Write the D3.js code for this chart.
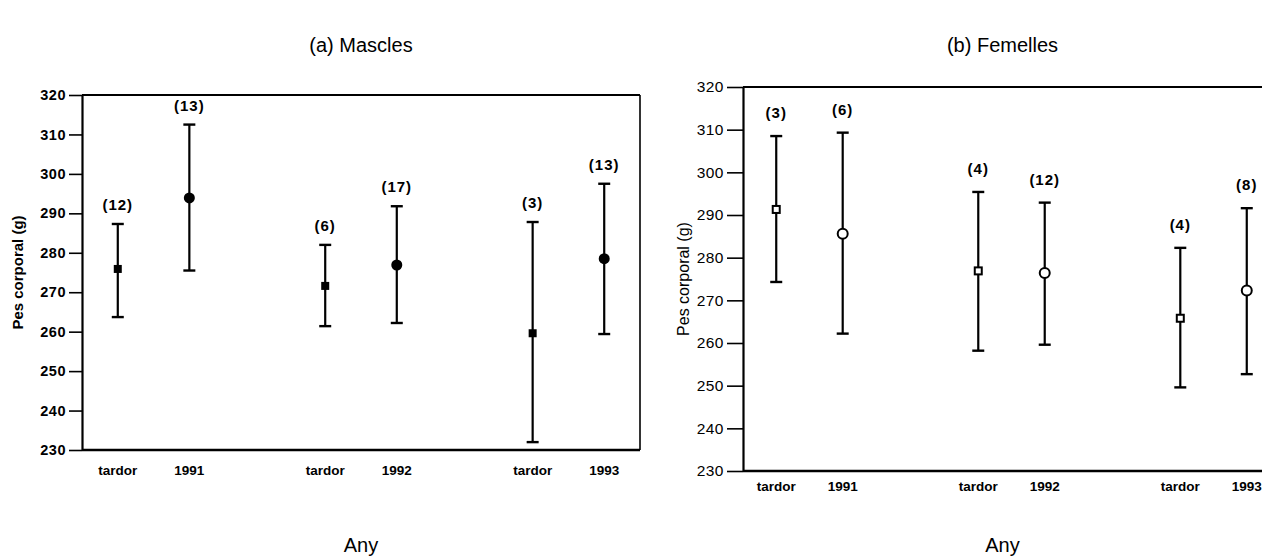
<!DOCTYPE html>
<html>
<head>
<meta charset="utf-8">
<script src="https://cdn.jsdelivr.net/npm/d3@7"></script>
<style>
  body { margin: 0; background: #fff; }
  text { font-family: "Liberation Sans", Arial, sans-serif; fill: #000; }
</style>
</head>
<body>
<svg id="chart" width="1273" height="560"></svg>
<script>
// categories
const years = ["1991", "1992", "1993"];
const periods = ["tardor", "any"];
const yTicks = [230, 240, 250, 260, 270, 280, 290, 300, 310, 320];

// (a) Mascles: mean and range, order tardor 1991, 1991, tardor 1992, ...
const maleMean = [275.9, 293.9, 271.6, 276.9, 259.6, 278.5];
const maleLow = [263.7, 275.5, 261.4, 262.2, 232.0, 259.4];
const maleHigh = [287.3, 312.5, 282.0, 291.8, 287.8, 297.5];
const maleN = [12, 13, 6, 17, 3, 13];

// (b) Femelles
const femaleMean = [291.3, 285.6, 276.9, 276.4, 265.8, 272.3];
const femaleLow = [274.3, 262.2, 258.2, 259.6, 249.6, 252.7];
const femaleHigh = [308.5, 309.3, 295.4, 292.9, 282.3, 291.6];
const femaleN = [3, 6, 4, 12, 4, 8];

const svg = d3.select("#chart");

function rows(mean, low, high, n) {
  return years.flatMap((yr, i) =>
    periods.map((p, j) => {
      const k = i * 2 + j;
      return { year: yr, period: p, label: p === "tardor" ? "tardor" : yr,
               mean: mean[k], low: low[k], high: high[k], n: n[k] };
    }));
}

function drawPanel(cfg, data) {
  const g = svg.append("g");

  const x = d3.scaleBand().domain(years)
    .range([cfg.left, cfg.xEnd]).paddingInner(cfg.padInner).paddingOuter(0);
  const xi = d3.scalePoint().domain(periods)
    .range([0, x.bandwidth()]).padding(0.5);
  const y = d3.scaleLinear().domain([230, 320]).range([cfg.bottom, cfg.top]);
  const px = d => x(d.year) + xi(d.period);

  // frame
  g.append("line").attr("x1", cfg.left).attr("x2", cfg.frameRight)
    .attr("y1", cfg.top).attr("y2", cfg.top)
    .attr("stroke", "#000").attr("stroke-width", 2.2);
  g.append("line").attr("x1", cfg.left).attr("x2", cfg.frameRight)
    .attr("y1", cfg.bottom).attr("y2", cfg.bottom)
    .attr("stroke", "#000").attr("stroke-width", 2.4);
  if (cfg.closed) {
    g.append("line").attr("x1", cfg.frameRight).attr("x2", cfg.frameRight)
      .attr("y1", cfg.top).attr("y2", cfg.bottom)
      .attr("stroke", "#000").attr("stroke-width", 1.6);
  }

  const axis = g.append("g")
    .attr("transform", `translate(${cfg.left},0)`)
    .call(d3.axisLeft(y).tickValues(yTicks).tickSize(cfg.tickLen).tickSizeOuter(0).tickPadding(3));
  axis.select(".domain").attr("stroke-width", 2.2);
  axis.selectAll(".tick line").attr("stroke-width", 1.6);
  axis.selectAll(".tick text")
    .style("font-size", cfg.tickFont)
    .style("font-weight", cfg.tickWeight)
    .style("letter-spacing", "0.5px")
    .attr("fill", "#000");

  g.append("text")
    .attr("transform", `translate(${cfg.yTitleX},${(cfg.top + cfg.bottom) / 2}) rotate(-90)`)
    .attr("text-anchor", "middle")
    .attr("dy", "0.35em")
    .style("font-size", cfg.yTitleFont)
    .style("font-weight", cfg.tickWeight)
    .text("Pes corporal (g)");

  // category labels under the axis
  g.selectAll(".xl").data(data).enter().append("text")
    .attr("x", px).attr("y", cfg.bottom + cfg.xLabelDy)
    .attr("text-anchor", "middle")
    .style("font-size", "13.5px")
    .style("font-weight", "bold")
    .text(d => d.label);

  // error bars
  const bars = g.selectAll(".bar").data(data).enter().append("g");
  bars.append("line")
    .attr("x1", px).attr("x2", px)
    .attr("y1", d => y(d.low)).attr("y2", d => y(d.high))
    .attr("stroke", "#000").attr("stroke-width", 2.2);
  ["low", "high"].forEach(k => {
    bars.append("line")
      .attr("x1", d => px(d) - 6).attr("x2", d => px(d) + 6)
      .attr("y1", d => y(d[k])).attr("y2", d => y(d[k]))
      .attr("stroke", "#000").attr("stroke-width", 2.4);
  });

  // markers
  bars.filter(d => d.period === "tardor").append("rect")
    .attr("x", d => px(d) - cfg.sq / 2).attr("y", d => y(d.mean) - cfg.sq / 2)
    .attr("width", cfg.sq).attr("height", cfg.sq)
    .attr("fill", cfg.filled ? "#000" : "#fff")
    .attr("stroke", "#000").attr("stroke-width", cfg.filled ? 0 : 2);
  bars.filter(d => d.period === "any").append("circle")
    .attr("cx", px).attr("cy", d => y(d.mean))
    .attr("r", cfg.filled ? 5.5 : 5)
    .attr("fill", cfg.filled ? "#000" : "#fff")
    .attr("stroke", "#000").attr("stroke-width", cfg.filled ? 0 : 2);

  // sample sizes
  bars.append("text")
    .attr("x", px).attr("y", d => y(d.high) - cfg.nDy)
    .attr("text-anchor", "middle")
    .style("font-size", "15px")
    .style("font-weight", "bold")
    .style("letter-spacing", "1px")
    .text(d => `(${d.n})`);

  const cx = (cfg.left + cfg.titleRight) / 2;
  g.append("text").attr("x", cx).attr("y", 52)
    .attr("text-anchor", "middle").style("font-size", "20px")
    .text(cfg.title);
  g.append("text").attr("x", cx).attr("y", 552)
    .attr("text-anchor", "middle").style("font-size", "20px")
    .text("Any");
}

drawPanel({
  title: "(a) Mascles", left: 82, xEnd: 640, frameRight: 640, titleRight: 640,
  padInner: 0.31, top: 95, bottom: 450, closed: true, filled: true,
  tickFont: "14.5px", tickWeight: "bold", tickLen: 13, yTitleX: 18, yTitleFont: "15px",
  xLabelDy: 25, sq: 8, nDy: 14
}, rows(maleMean, maleLow, maleHigh, maleN));

drawPanel({
  title: "(b) Femelles", left: 743, xEnd: 1280, frameRight: 1262, titleRight: 1262,
  padInner: 0.342, top: 87, bottom: 471, closed: false, filled: false,
  tickFont: "15.5px", tickWeight: "normal", tickLen: 16, yTitleX: 683, yTitleFont: "16px",
  xLabelDy: 20, sq: 7, nDy: 18
}, rows(femaleMean, femaleLow, femaleHigh, femaleN));
</script>
</body>
</html>
